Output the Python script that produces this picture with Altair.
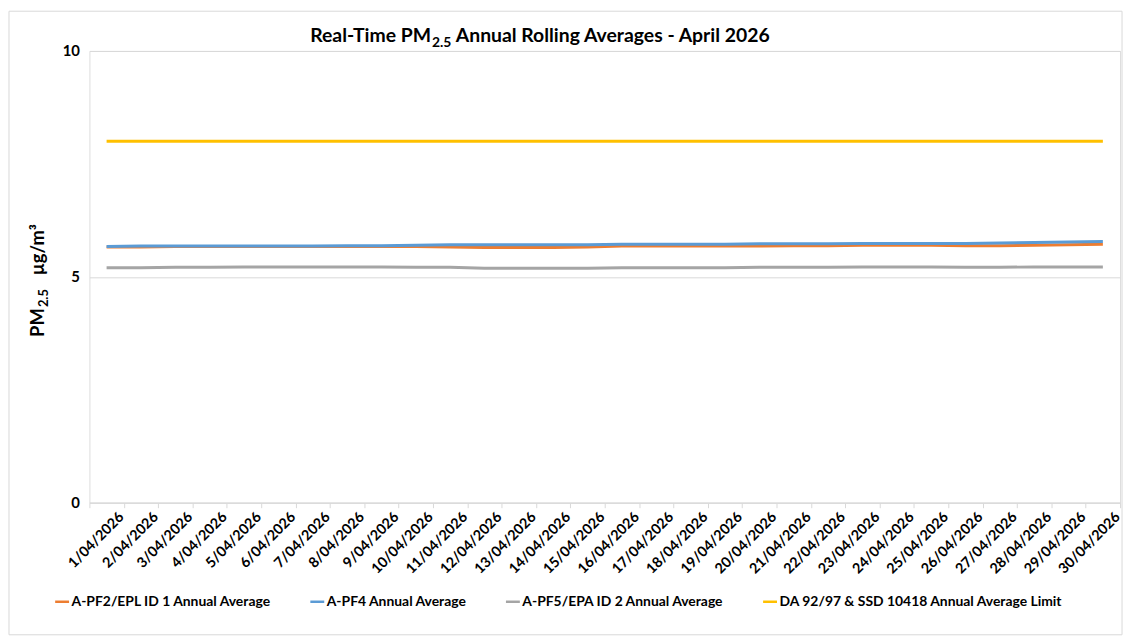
import altair as alt
import pandas as pd

dates = [f"{d}/04/2026" for d in range(1, 31)]

pf2 = [5.66, 5.66, 5.67, 5.67, 5.67, 5.67, 5.67, 5.67, 5.67, 5.67,
       5.66, 5.65, 5.65, 5.65, 5.66, 5.68, 5.68, 5.68, 5.68, 5.68,
       5.69, 5.69, 5.70, 5.70, 5.70, 5.69, 5.69, 5.70, 5.71, 5.72]
pf4 = [5.67, 5.68, 5.68, 5.68, 5.68, 5.68, 5.68, 5.69, 5.69, 5.70,
       5.71, 5.71, 5.71, 5.71, 5.71, 5.72, 5.72, 5.72, 5.72, 5.73,
       5.73, 5.73, 5.74, 5.74, 5.74, 5.74, 5.75, 5.76, 5.77, 5.78]
pf5 = [5.20, 5.20, 5.21, 5.21, 5.22, 5.22, 5.22, 5.22, 5.22, 5.21,
       5.21, 5.19, 5.19, 5.19, 5.19, 5.20, 5.20, 5.20, 5.20, 5.21,
       5.21, 5.21, 5.22, 5.22, 5.22, 5.21, 5.21, 5.22, 5.22, 5.22]
limit = [8.0] * 30

series_names = [
    "A-PF2/EPL ID 1 Annual Average",
    "A-PF4 Annual Average",
    "A-PF5/EPA ID 2 Annual Average",
    "DA 92/97 & SSD 10418 Annual Average Limit",
]
series_colors = ["#ED7D31", "#5B9BD5", "#A5A5A5", "#FFC000"]
draw_order = [1, 2, 0, -1]  # yellow first, grey, orange, blue on top

rows = []
for name, vals, order in zip(series_names, [pf2, pf4, pf5, limit], draw_order):
    for d, v in zip(dates, vals):
        rows.append({"Date": d, "Value": v, "Series": name, "ord": order})
df = pd.DataFrame(rows).sort_values("ord", kind="stable")

FONT = "Lato"

lines = alt.Chart(df).mark_line(strokeWidth=3).encode(
    x=alt.X("Date:O", sort=dates,
            scale=alt.Scale(type="band", paddingInner=0, paddingOuter=0),
            axis=alt.Axis(title=None, labelAngle=-45, labelAlign="right",
                          labelBaseline="top",
                          labelFont=FONT, labelFontSize=14.5, labelFontWeight="bold",
                          labelColor="#000000", tickBand="extent",
                          tickColor="#d9d9d9", tickSize=5,
                          domainColor="#d9d9d9", labelPadding=2, labelOffset=10)),
    y=alt.Y("Value:Q", scale=alt.Scale(domain=[0, 10], nice=False),
            axis=alt.Axis(title=None, values=[0, 5, 10], ticks=False,
                          domain=False, gridColor="#d9d9d9",
                          labelFont=FONT, labelFontSize=15, labelFontWeight="bold",
                          labelColor="#000000", labelPadding=10)),
    color=alt.Color("Series:N",
                    scale=alt.Scale(domain=series_names, range=series_colors),
                    legend=alt.Legend(title=None, orient="none", direction="horizontal",
                                      legendX=-36, legendY=546,
                                      symbolType="stroke", symbolSize=196,
                                      symbolStrokeWidth=2.5,
                                      labelFont=FONT, labelFontSize=14,
                                      labelFontWeight="bold", labelColor="#000000",
                                      labelLimit=0,
                                      labelOffset=1, columnPadding=33)),
    order=alt.Order("ord:Q"),
)

t1 = alt.Chart(pd.DataFrame({"t": ["Real-Time PM"]})).mark_text(
    font=FONT, fontSize=19.5, fontWeight="bold", align="right", baseline="alphabetic",
    color="#000000").encode(text="t:N", x=alt.value(344), y=alt.value(-9))
t2 = alt.Chart(pd.DataFrame({"t": ["2.5"]})).mark_text(
    font=FONT, fontSize=14, fontWeight="bold", align="left", baseline="alphabetic",
    color="#000000").encode(text="t:N", x=alt.value(345), y=alt.value(-4))
t3 = alt.Chart(pd.DataFrame({"t": ["Annual Rolling Averages - April 2026"]})).mark_text(
    font=FONT, fontSize=19.5, fontWeight="bold", align="left", baseline="alphabetic",
    color="#000000").encode(text="t:N", x=alt.value(369), y=alt.value(-9))

y1 = alt.Chart(pd.DataFrame({"t": ["PM"]})).mark_text(
    font=FONT, fontSize=18.5, fontWeight="bold", align="left", baseline="alphabetic",
    angle=270, color="#000000").encode(text="t:N", x=alt.value(-46), y=alt.value(288))
y2 = alt.Chart(pd.DataFrame({"t": ["2.5"]})).mark_text(
    font=FONT, fontSize=13, fontWeight="bold", align="left", baseline="alphabetic",
    angle=270, color="#000000").encode(text="t:N", x=alt.value(-42), y=alt.value(258))
y3 = alt.Chart(pd.DataFrame({"t": ["µg/m³"]})).mark_text(
    font=FONT, fontSize=18.5, fontWeight="bold", align="left", baseline="alphabetic",
    angle=270, color="#000000").encode(text="t:N", x=alt.value(-46), y=alt.value(226))

border = alt.Chart(pd.DataFrame({"a": [0]})).mark_rect(
    fill=None, stroke="#d9d9d9", strokeWidth=1).encode(
    x=alt.value(-81), x2=alt.value(1040), y=alt.value(-40), y2=alt.value(588))

chart = alt.layer(border, lines, t1, t2, t3, y1, y2, y3).properties(
    width=1038, height=455,
    autosize=alt.AutoSizeParams(type="none"),
    padding={"left": 82, "top": 41, "right": 7, "bottom": 135},
).configure_view(stroke="#d9d9d9", strokeWidth=1).configure(background="white")

chart.save("out.html", embed_options={"renderer": "svg", "actions": False})
